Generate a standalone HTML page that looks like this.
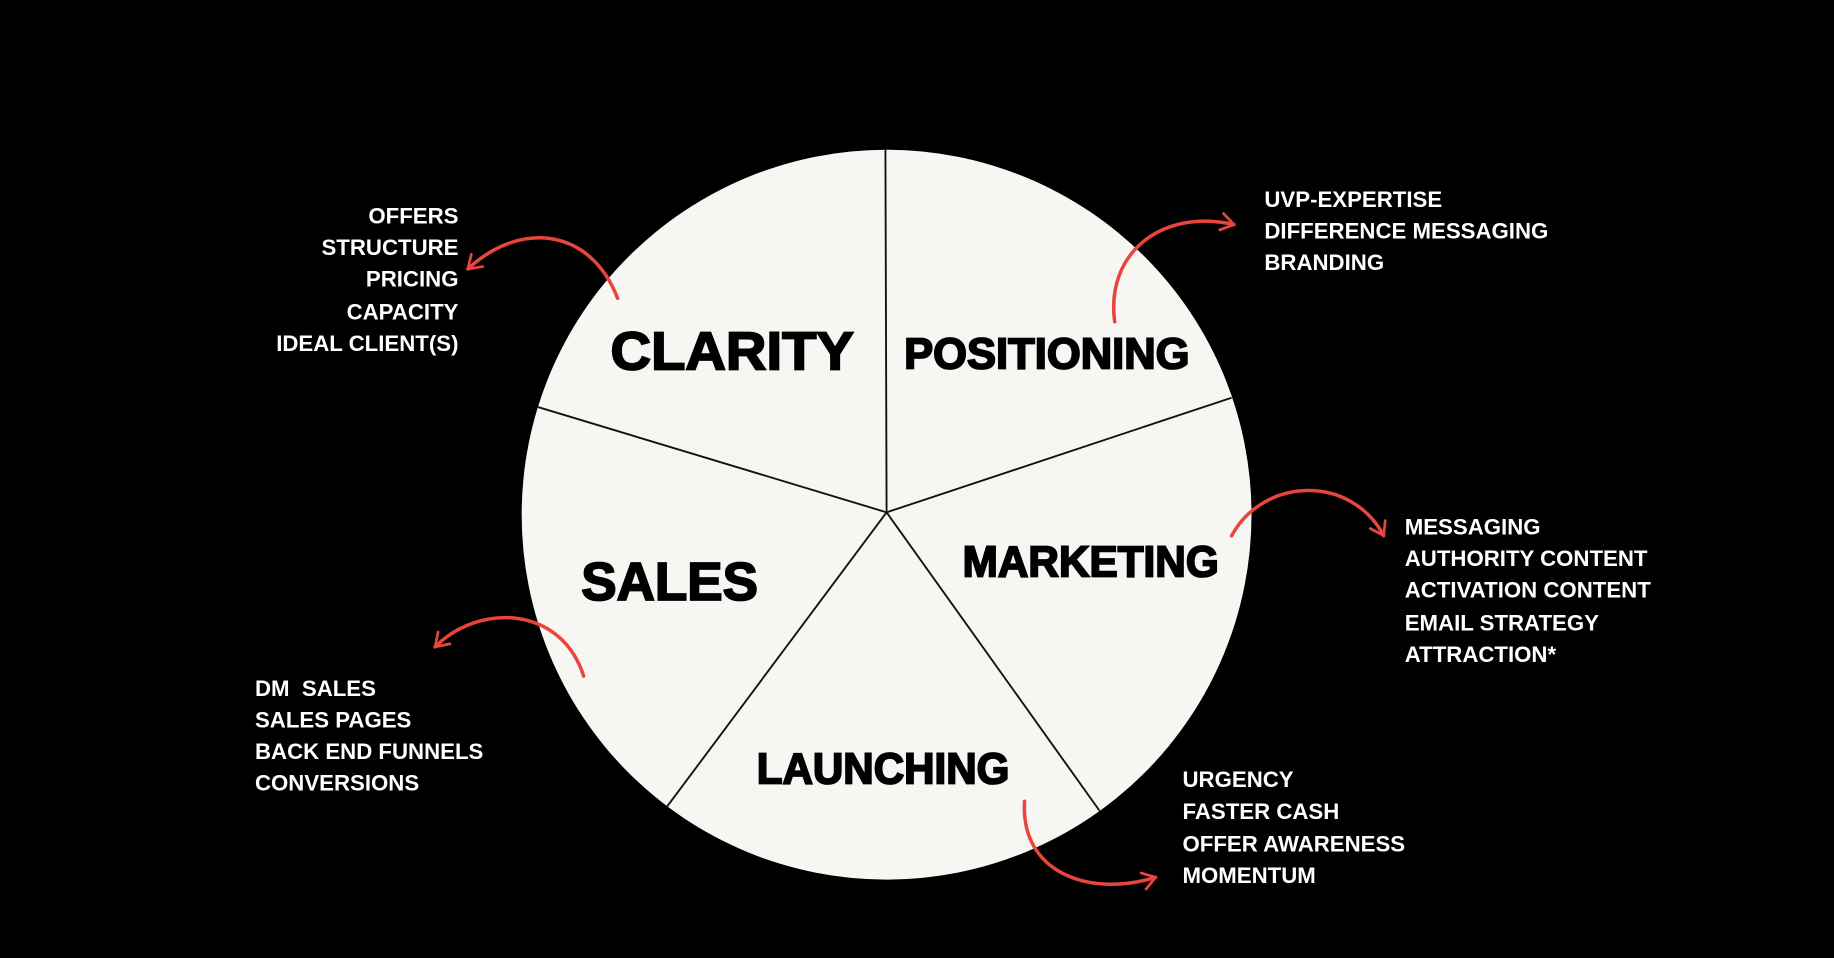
<!DOCTYPE html>
<html><head><meta charset="utf-8"><style>
html,body{margin:0;padding:0;background:#000;width:1834px;height:958px;overflow:hidden}
svg{display:block}
.big{font-family:"Liberation Sans",sans-serif;font-weight:900;fill:#000;stroke:#000;stroke-width:1.6}
.sm{font-family:"Liberation Sans",sans-serif;font-weight:700;fill:#fff;font-size:19px}
.arr{fill:none;stroke:#e8453c;stroke-width:3;stroke-linecap:round}
</style></head><body>
<svg width="1834" height="958" viewBox="0 0 1568 819" preserveAspectRatio="none">
<defs><marker id="m" viewBox="0 0 20 20" refX="14" refY="10" markerWidth="18" markerHeight="18" orient="auto" markerUnits="userSpaceOnUse">
<polyline points="2,2 14,10 2,18" fill="none" stroke="#e8453c" stroke-width="2.6" stroke-linecap="round" stroke-linejoin="round"/></marker></defs>
<rect width="1568" height="819" fill="#000"/>
<circle cx="758" cy="440" r="312" fill="#f7f6f3"/>
<g stroke="#111" stroke-width="1.6">
<line x1="758" y1="438" x2="757" y2="128"/>
<line x1="758" y1="438" x2="1053" y2="340"/>
<line x1="758" y1="438" x2="940" y2="693"/>
<line x1="758" y1="438" x2="570" y2="690"/>
<line x1="758" y1="438" x2="460" y2="348"/>
</g>
<text class="big" x="522" y="316" font-size="46" textLength="208" lengthAdjust="spacingAndGlyphs">CLARITY</text>
<text class="big" x="773" y="315" font-size="37" textLength="244" lengthAdjust="spacingAndGlyphs">POSITIONING</text>
<text class="big" x="823" y="493" font-size="37" textLength="219" lengthAdjust="spacingAndGlyphs">MARKETING</text>
<text class="big" x="497" y="513" font-size="46" textLength="151" lengthAdjust="spacingAndGlyphs">SALES</text>
<text class="big" x="647" y="670" font-size="37" textLength="216" lengthAdjust="spacingAndGlyphs">LAUNCHING</text>

<path class="arr" marker-end="url(#m)" d="M528,255 C505,195 445,188 400,230"/>
<path class="arr" marker-end="url(#m)" d="M953,275 C945,215 995,178 1055,192"/>
<path class="arr" marker-end="url(#m)" d="M1053,458 C1080,408 1155,405 1183,458"/>
<path class="arr" marker-end="url(#m)" d="M499,578 C480,518 410,515 372,553"/>
<path class="arr" marker-end="url(#m)" d="M876,685 C872,745 930,768 988,750"/>

<g class="sm" text-anchor="end">
<text x="392" y="191">OFFERS</text>
<text x="392" y="218">STRUCTURE</text>
<text x="392" y="245">PRICING</text>
<text x="392" y="273">CAPACITY</text>
<text x="392" y="300">IDEAL CLIENT(S)</text>
</g>
<g class="sm">
<text x="1081" y="177">UVP-EXPERTISE</text>
<text x="1081" y="204">DIFFERENCE MESSAGING</text>
<text x="1081" y="231">BRANDING</text>
<text x="1201" y="457">MESSAGING</text>
<text x="1201" y="484">AUTHORITY CONTENT</text>
<text x="1201" y="511">ACTIVATION CONTENT</text>
<text x="1201" y="539">EMAIL STRATEGY</text>
<text x="1201" y="566">ATTRACTION*</text>
<text x="218" y="595" xml:space="preserve">DM  SALES</text>
<text x="218" y="622">SALES PAGES</text>
<text x="218" y="649">BACK END FUNNELS</text>
<text x="218" y="676">CONVERSIONS</text>
<text x="1011" y="673">URGENCY</text>
<text x="1011" y="700">FASTER CASH</text>
<text x="1011" y="728">OFFER AWARENESS</text>
<text x="1011" y="755">MOMENTUM</text>
</g>
</svg>
</body></html>
